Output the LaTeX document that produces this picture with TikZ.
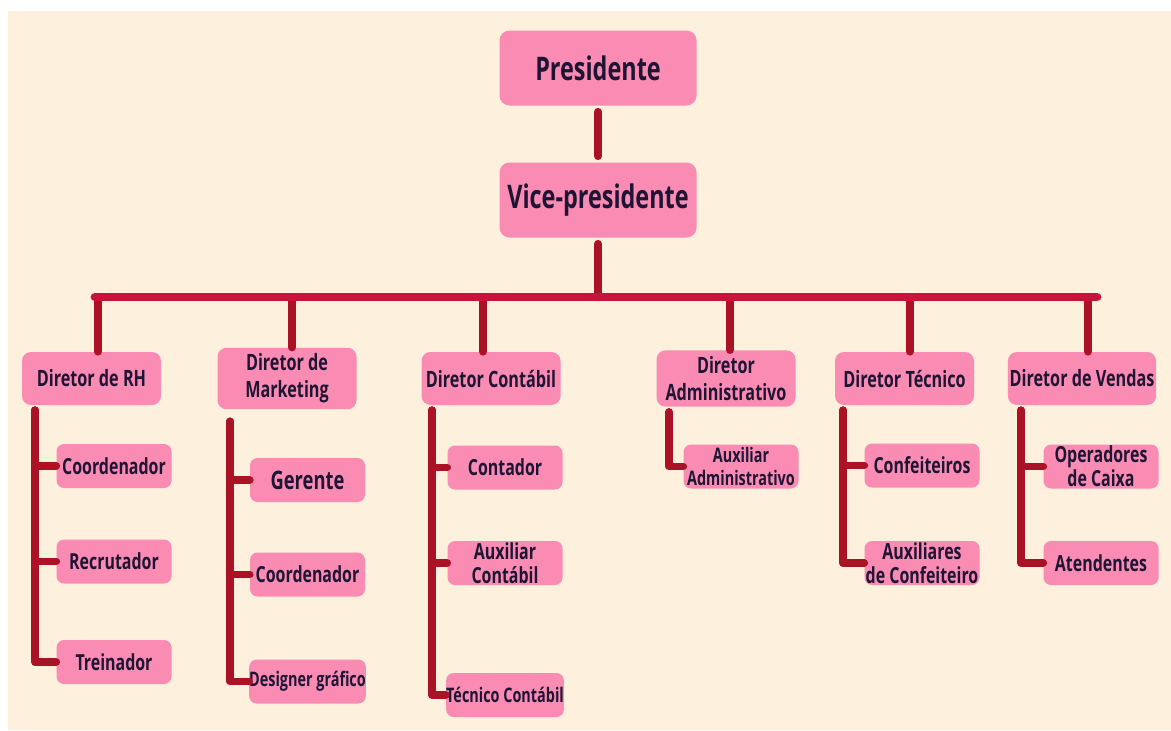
\documentclass[tikz,border=0pt]{standalone}
\usepackage{fontspec}
\setmainfont{Open Sans}[FakeStretch=0.72]
\usepackage{tikz}
\usetikzlibrary{positioning}

\definecolor{cream}{HTML}{FDF0DD}
\definecolor{boxpink}{HTML}{FA8CB4}
\definecolor{ink}{HTML}{1E1433}
\definecolor{linkred}{HTML}{AB1226}
\definecolor{barred}{HTML}{C8143C}

\begin{document}
\begin{tikzpicture}[node distance = 1.75cm and 0.45cm, on grid,
                    boss/.style = {rectangle,
                                   rounded corners = 0.2cm,
                                   fill = boxpink,
                                   text = ink,
                                   font = \fontsize{18.5}{20}\selectfont\bfseries,
                                   minimum width = 3.94cm,
                                   minimum height = 1.5cm},
                    dir/.style  = {rectangle,
                                   rounded corners = 0.18cm,
                                   fill = boxpink,
                                   text = ink,
                                   align = center,
                                   inner xsep = 1pt,
                                   font = \fontsize{12.8}{15.5}\selectfont\bfseries,
                                   minimum width = 2.78cm,
                                   minimum height = 1.06cm},
                    job/.style  = {rectangle,
                                   rounded corners = 0.15cm,
                                   fill = boxpink,
                                   text = ink,
                                   align = center,
                                   inner xsep = 0pt,
                                   inner ysep = 0pt,
                                   font = \fontsize{12.6}{13.6}\selectfont\bfseries,
                                   minimum width = 2.3cm,
                                   minimum height = 0.88cm},
                    narrow/.style = {font = \fontsize{11.4}{13.6}\selectfont\bfseries},
                    link/.style = {draw = linkred,
                                   line width = 4.5pt,
                                   line cap = round,
                                   line join = round}]

\fill[cream] (0.16,-0.22) rectangle (23.42,-14.6);
\useasboundingbox (0,0) rectangle (23.42,-14.6);

\node[boss] (pres) at (11.96,-1.36) {Presidente};
\node[boss] (vice) [below = 2.64cm of pres] {Vice-presidente};

\node[dir] (rh) at (1.83,-7.57) {Diretor de RH};
\node[dir] (mkt) [right = 3.91cm of rh] {Diretor de\\Marketing};
\node[dir] (cont) [right = 4.08cm of mkt] {Diretor Contábil};
\node[dir] (adm) [right = 4.70cm of cont] {Diretor\\Administrativo};
\node[dir] (tec) [right = 3.57cm of adm] {Diretor Técnico};
\node[dir] (ven) [right = 3.55cm of tec] {Diretor de Vendas};

\node[job] (rh1) [below right = 1.75cm and 0.45cm of rh] {Coordenador};
\node[job] (rh2) [below = 1.91cm of rh1] {Recrutador};
\node[job] (rh3) [below = 2.01cm of rh2] {Treinador};

\node[job] (mkt1) [below right = 2.03cm and 0.41cm of mkt,
                   font = \fontsize{14.5}{15}\selectfont\bfseries] {Gerente};
\node[job] (mkt2) [below = 1.89cm of mkt1] {Coordenador};
\node[job, narrow] (mkt3) [below = 2.14cm of mkt2] {Designer gráfico};

\node[job] (cont1) [below right = 1.78cm and 0.28cm of cont] {Contador};
\node[job] (cont2) [below = 1.91cm of cont1] {Auxiliar\\Contábil};
\node[job, narrow] (cont3) [below = 2.64cm of cont2] {Técnico Contábil};

\node[job, narrow] (adm1) [below right = 1.76cm and 0.30cm of adm] {Auxiliar\\Administrativo};

\node[job] (tec1) [below right = 1.74cm and 0.35cm of tec] {Confeiteiros};
\node[job] (tec2) [below = 1.95cm of tec1] {Auxiliares\\de Confeiteiro};

\node[job] (ven1) [below right = 1.76cm and 0.38cm of ven] {Operadores\\de Caixa};
\node[job] (ven2) [below = 1.93cm of ven1] {Atendentes};

\coordinate (barL) at (1.9,-5.94);
\coordinate (barR) at (21.94,-5.94);

\coordinate[below left = 0.10cm and 1.13cm of rh.south] (rhT);
\coordinate[below left = 0.24cm and 1.14cm of mkt.south] (mktT);
\coordinate[below left = 0.10cm and 1.18cm of cont.south] (contT);
\coordinate[below left = 0.10cm and 1.14cm of adm.south] (admT);
\coordinate[below left = 0.10cm and 1.23cm of tec.south] (tecT);
\coordinate[below left = 0.10cm and 1.22cm of ven.south] (venT);

\draw[link, shorten <= 0.12cm, shorten >= 0.12cm] (pres) -- (vice);
\draw[link, shorten <= 0.12cm] (vice.south) -- (vice.south |- barL);

\foreach \d/\s in {rh/0.13, mkt/0.10, cont/-0.16, adm/0.08, tec/0.11, ven/0.12}
  \draw[link] ([xshift = \s cm]\d.north |- barL) -- ([xshift = \s cm]\d.north);

\draw[link, draw = barred, line width = 5pt] (barL) -- (barR);

\foreach \c in {rh1,rh2,rh3} \draw[link] (rhT) |- (\c.west);
\foreach \c in {mkt1,mkt2,mkt3} \draw[link] (mktT) |- (\c.west);
\foreach \c in {cont1,cont2,cont3} \draw[link] (contT) |- (\c.west);
\draw[link] (admT) |- (adm1.west);
\foreach \c in {tec1,tec2} \draw[link] (tecT) |- (\c.west);
\foreach \c in {ven1,ven2} \draw[link] (venT) |- (\c.west);

\end{tikzpicture}
\end{document}
